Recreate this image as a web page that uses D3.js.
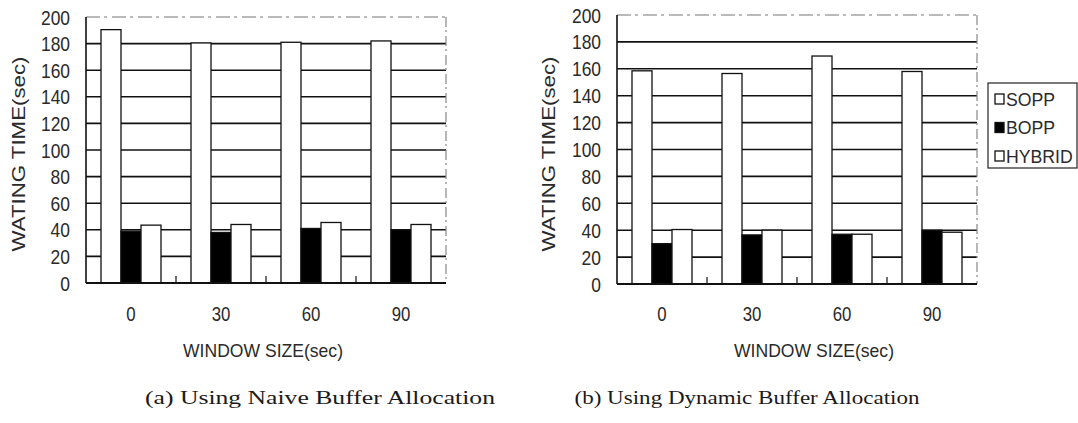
<!DOCTYPE html>
<html lang="en">
<head>
  <meta charset="utf-8">
    <title>Waiting time by window size</title>
    <script type="text/javascript" src="https://d3js.org/d3.v7.min.js"></script>
    <style type="text/css">
      body { margin: 0; background: #fff; }
      .sans { font-family: "Liberation Sans", Arial, sans-serif; fill: #2a2a2a; }
      .serif { font-family: "Liberation Serif", "Times New Roman", serif; fill: #1a1a1a; }
    </style>
</head>
<body>
  <script type="text/javascript">

var windowSizes = ["0", "30", "60", "90"],
    series = ["SOPP", "BOPP", "HYBRID"],
    yTicks = [0, 20, 40, 60, 80, 100, 120, 140, 160, 180, 200];

// (a) naive buffer allocation
var naiveSOPP   = [190.5, 180.5, 181, 182],
    naiveBOPP   = [39, 38, 41, 40],
    naiveHYBRID = [43.5, 44, 45.5, 44];

// (b) dynamic buffer allocation
var dynSOPP   = [158.5, 156.5, 169.5, 158],
    dynBOPP   = [30, 36.5, 37, 40],
    dynHYBRID = [40.5, 40, 37, 38.5];

var fills = {SOPP: "#fff", BOPP: "#000", HYBRID: "#fff"};

var svg = d3.select("body")
    .append("svg")
    .attr("width", 1078)
    .attr("height", 423);

// the scan uses a narrow sans face, so squeeze the text horizontally
function narrowText(parent, x, y, str, size, sx, anchor) {
    return parent.append("g")
        .attr("transform", "translate(" + x + "," + y + ") scale(" + sx + ",1)")
      .append("text")
        .attr("class", "sans")
        .attr("dy", "0.36em")
        .attr("text-anchor", anchor)
        .attr("font-size", size)
        .text(str);
}

function drawPanel(p) {
    var x = d3.scaleBand().domain(windowSizes).range([p.left, p.left + 360]);
    var xs = d3.scaleBand().domain(series).range([0, x.bandwidth()]).paddingOuter(0.75);
    var y = d3.scaleLinear().domain([0, 200]).range([p.bottom, p.top]);

    var g = svg.append("g");

    // horizontal grid
    g.selectAll(".grid")
        .data(yTicks.filter(function(d){ return d > 0 && d < 200; }))
        .enter().append("line")
        .attr("x1", p.left).attr("x2", p.left + 360)
        .attr("y1", function(d){ return y(d); })
        .attr("y2", function(d){ return y(d); })
        .attr("stroke", "#111")
        .attr("stroke-width", 1.6);

    // frame: top and right are faint / broken in the scan
    g.append("line")
        .attr("x1", p.left).attr("x2", p.left + 360)
        .attr("y1", y(200)).attr("y2", y(200))
        .attr("stroke", "#777").attr("stroke-width", 1.2)
        .attr("stroke-dasharray", "14,4,3,5");
    g.append("line")
        .attr("x1", p.left + 360).attr("x2", p.left + 360)
        .attr("y1", y(200)).attr("y2", y(0))
        .attr("stroke", "#888").attr("stroke-width", 1.2)
        .attr("stroke-dasharray", "10,3,2,4");

    // bars
    var rows = windowSizes.map(function(w, i) {
        return {w: w, vals: series.map(function(s) { return {s: s, v: p.data[s][i]}; })};
    });
    var grp = g.selectAll(".grp")
        .data(rows)
        .enter().append("g")
        .attr("transform", function(d){ return "translate(" + x(d.w) + ",0)"; });
    grp.selectAll("rect")
        .data(function(d){ return d.vals; })
        .enter().append("rect")
        .attr("x", function(d){ return xs(d.s); })
        .attr("width", xs.bandwidth())
        .attr("y", function(d){ return y(d.v); })
        .attr("height", function(d){ return y(0) - y(d.v); })
        .attr("fill", function(d){ return fills[d.s]; })
        .attr("stroke", "#111")
        .attr("stroke-width", 1.3);

    // small marks at group boundaries
    g.selectAll(".sep")
        .data(windowSizes.slice(1))
        .enter().append("line")
        .attr("x1", function(d){ return x(d); })
        .attr("x2", function(d){ return x(d); })
        .attr("y1", y(0)).attr("y2", y(0) - 7)
        .attr("stroke", "#111").attr("stroke-width", 1.2);

    // left + bottom axis lines
    g.append("line")
        .attr("x1", p.left).attr("x2", p.left)
        .attr("y1", y(200)).attr("y2", y(0))
        .attr("stroke", "#111").attr("stroke-width", 1.6);
    g.append("line")
        .attr("x1", p.left).attr("x2", p.left + 360)
        .attr("y1", y(0)).attr("y2", y(0))
        .attr("stroke", "#111").attr("stroke-width", 2);

    // y tick labels
    yTicks.forEach(function(d) {
        narrowText(g, p.left - 16, y(d), d, 21, 0.83, "end");
    });

    // x tick labels
    windowSizes.forEach(function(d) {
        narrowText(g, x(d) + x.bandwidth() / 2, 313, d, 21, 0.8, "middle");
    });

    g.append("text")
        .attr("class", "sans")
        .attr("x", p.xTitleX).attr("y", 350)
        .attr("dy", "0.36em")
        .attr("text-anchor", "middle")
        .attr("font-size", 19)
        .attr("textLength", 160)
        .attr("lengthAdjust", "spacingAndGlyphs")
        .text("WINDOW SIZE(sec)");

    g.append("text")
        .attr("class", "sans")
        .attr("transform", "translate(" + p.yTitleX + ",154) rotate(-90)")
        .attr("dy", "0.36em")
        .attr("text-anchor", "middle")
        .attr("font-size", 18)
        .attr("textLength", 195)
        .attr("lengthAdjust", "spacingAndGlyphs")
        .text("WATING  TIME(sec)");

    g.append("text")
        .attr("class", "serif")
        .attr("x", p.capX).attr("y", 397)
        .attr("dy", "0.36em")
        .attr("text-anchor", "middle")
        .attr("font-size", 19)
        .attr("textLength", p.capW)
        .attr("lengthAdjust", "spacingAndGlyphs")
        .text(p.caption);
}

drawPanel({
    left: 86, top: 17, bottom: 283,
    data: {SOPP: naiveSOPP, BOPP: naiveBOPP, HYBRID: naiveHYBRID},
    xTitleX: 263, yTitleX: 19,
    capX: 320, capW: 350,
    caption: "(a) Using Naive Buffer Allocation"
});

drawPanel({
    left: 617, top: 15, bottom: 284,
    data: {SOPP: dynSOPP, BOPP: dynBOPP, HYBRID: dynHYBRID},
    xTitleX: 814, yTitleX: 549,
    capX: 747, capW: 345,
    caption: "(b) Using Dynamic Buffer Allocation"
});

// legend
var legend = svg.append("g").attr("transform", "translate(988,83)");
legend.append("rect")
    .attr("width", 89).attr("height", 85)
    .attr("fill", "#fff").attr("stroke", "#222").attr("stroke-width", 1.2);
series.forEach(function(d, i) {
    var item = legend.append("g")
        .attr("transform", "translate(7," + (16 + i * 28.5) + ")");
    item.append("rect")
        .attr("x", 0).attr("y", -5)
        .attr("width", 9).attr("height", 10)
        .attr("fill", fills[d])
        .attr("stroke", "#111").attr("stroke-width", 1.3);
    narrowText(item, 11, 0, d, 19, 0.93, "start");
});

</script>
</body>
</html>
